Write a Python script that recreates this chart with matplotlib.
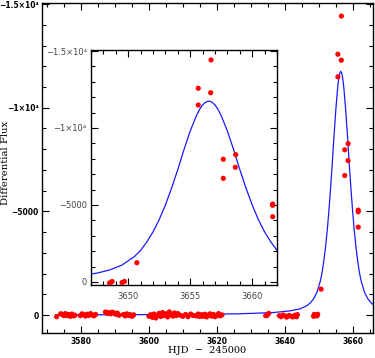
import matplotlib
matplotlib.use("Agg")
import matplotlib.pyplot as plt
from matplotlib.ticker import MultipleLocator

# ---------------- data ----------------
base_t = [3572.8,
          3574.0, 3574.4, 3574.9, 3575.4, 3575.9, 3576.3, 3576.8, 3577.3, 3577.8, 3578.2,
          3579.8, 3580.3, 3580.8, 3581.3, 3581.8, 3582.3, 3582.8, 3583.3, 3583.8, 3584.3,
          3587.2, 3587.7, 3588.2, 3588.7, 3589.2, 3589.7, 3590.2, 3590.7, 3591.2,
          3592.5, 3593.0, 3593.5, 3594.0, 3594.5, 3595.0, 3595.5,
          3600.0, 3600.5, 3601.0, 3601.5, 3602.0, 3602.5, 3603.0, 3603.5, 3604.0,
          3604.5, 3605.0, 3605.5, 3606.0, 3606.5, 3607.0, 3607.5, 3608.0, 3608.5,
          3609.2, 3610.0, 3610.8, 3611.5, 3612.3, 3613.0,
          3614.0, 3614.5, 3615.0, 3615.5, 3616.0, 3616.5, 3617.0, 3617.5,
          3618.0, 3618.5, 3619.0, 3619.5, 3620.0, 3620.5, 3621.0, 3621.5,
          3634.4, 3634.8, 3635.3,
          3638.4, 3638.9, 3639.5, 3640.1, 3640.6, 3641.3, 3641.9, 3642.4, 3643.0, 3643.5, 3643.7,
          3648.5, 3648.7, 3649.5, 3649.7]
base_flux = [80,
             -60, -40, 30, -70, 20, -30, 60, -50, 40, 10,
             30, -60, -20, 50, -40, 20, -70, -10, 40, -30,
             -150, -80, -120, -60, -140, -100, -40, -90, 10,
             -30, 40, -60, 20, -20, 60, -10,
             60, -20, 110, -50, 140, 30, -80, 70, -120,
             20, -60, 90, -150, -40, 50, -100, 30, -70,
             10, 60, -30, 80, -50, 20,
             40, -50, 70, -20, 60, -40, 90, 10,
             -60, 50, -30, 80, 20, -70, 40, -10,
             30, 20, -80,
             30, 80, 0, 40, 100, 20, 60, 90, 10, 80, -20,
             60, -30, 40, -40]

peak_t = [3650.7, 3655.65, 3655.65, 3656.68, 3656.65, 3657.67, 3657.67,
          3658.67, 3658.64, 3661.65, 3661.65, 3661.65]
peak_flux = [-1250, -12580, -11490, -14420, -12290, -7970, -6730,
             -8270, -7450, -5060, -4980, -4240]

model_t = [3572.5, 3606.5, 3626.5, 3636.5, 3641.5, 3644.5, 3646.5, 3647.5,
           3648.5, 3649.5, 3650.5, 3651.0, 3651.5, 3652.0, 3652.5, 3653.0,
           3653.5, 3654.0, 3654.5, 3655.0, 3655.5, 3655.75, 3656.0, 3656.25,
           3656.5, 3656.75, 3657.0, 3657.25, 3657.5, 3658.0, 3658.5, 3659.0,
           3659.5, 3660.0, 3660.5, 3661.0, 3661.5, 3662.0, 3662.5, 3663.5,
           3664.5, 3665.5, 3666.5, 3668.5]
model_flux = [-10, -25, -60, -120, -200, -300, -450, -580,
              -780, -1100, -1650, -2050, -2600, -3250, -4050, -5000,
              -6100, -7300, -8600, -9800, -10800, -11200, -11500, -11680,
              -11750, -11680, -11500, -11200, -10800, -9800, -8600, -7300,
              -6100, -5000, -4050, -3250, -2600, -2050, -1650, -1100,
              -780, -580, -450, -300]

main_yticks = [0, -5000, -10000, -15000]
main_yticklabels = ["0", "\u22125000", "\u22121\u00d710\u2074", "\u22121.5\u00d710\u2074"]
main_xticks = [3580, 3600, 3620, 3640, 3660]
inset_xticks = [3650, 3655, 3660]

t_all = base_t + peak_t
f_all = base_flux + peak_flux

RED = "#ff0000"
BLUE = "#1a1aff"

fig = plt.figure(figsize=(3.75, 3.58), dpi=100)

# ---------------- main axes ----------------
ax = fig.add_axes([42/375, 1-333/358, 331/375, 330/358])
ax.plot(model_t, model_flux, color=BLUE, lw=0.9, zorder=2)
ax.scatter(t_all, f_all, s=14, color=RED, edgecolors="none", zorder=3)
ax.set_xlim(3568.5, 3666)
ax.set_ylim(865, -15050)
ax.set_xticks(main_xticks)
ax.set_yticks(main_yticks)
ax.set_yticklabels(main_yticklabels)
ax.xaxis.set_minor_locator(MultipleLocator(5))
ax.yaxis.set_minor_locator(MultipleLocator(1000))
ax.tick_params(which="both", direction="in", top=True, right=True, width=0.8,
               labelsize=5.5)
ax.tick_params(axis="x", pad=3.0)
ax.tick_params(axis="y", pad=2.3)
ax.tick_params(which="major", length=5)
ax.tick_params(which="minor", length=3)
for lab in ax.get_xticklabels() + ax.get_yticklabels():
    lab.set_fontweight("bold")
for s in ax.spines.values():
    s.set_linewidth(1.0)
ax.set_xlabel("HJD  \u2212  245000", family="DejaVu Serif", fontsize=7)
ax.xaxis.label.set_va("center")
ax.xaxis.set_label_coords(0.5, (333 - 350.5) / 330)
ax.set_ylabel("Differential Flux", family="DejaVu Serif", fontsize=7.3)
ax.yaxis.label.set_va("center")
ax.yaxis.set_label_coords((5.5 - 42) / 331, (333 - 163) / 330)

# ---------------- inset axes ----------------
ins = fig.add_axes([91/375, 1-285/358, 186/375, 235/358])
ins.set_facecolor("white")
ins.plot(model_t, model_flux, color=BLUE, lw=0.9, zorder=2)
ins.scatter(t_all, f_all, s=14, color=RED, edgecolors="none", zorder=3)
ins.set_xlim(3647, 3662)
ins.set_ylim(195, -15065)
ins.set_xticks(inset_xticks)
ins.set_yticks(main_yticks)
ins.set_yticklabels(main_yticklabels)
ins.xaxis.set_minor_locator(MultipleLocator(1))
ins.yaxis.set_minor_locator(MultipleLocator(1000))
ins.tick_params(which="both", direction="in", top=True, right=True, width=0.8,
                labelsize=6, labelcolor="#444444")
ins.tick_params(axis="x", pad=5)
ins.tick_params(axis="y", pad=3)
ins.tick_params(which="major", length=5)
ins.tick_params(which="minor", length=3)
for s in ins.spines.values():
    s.set_linewidth(1.0)

fig.savefig("out.png", dpi=100)
